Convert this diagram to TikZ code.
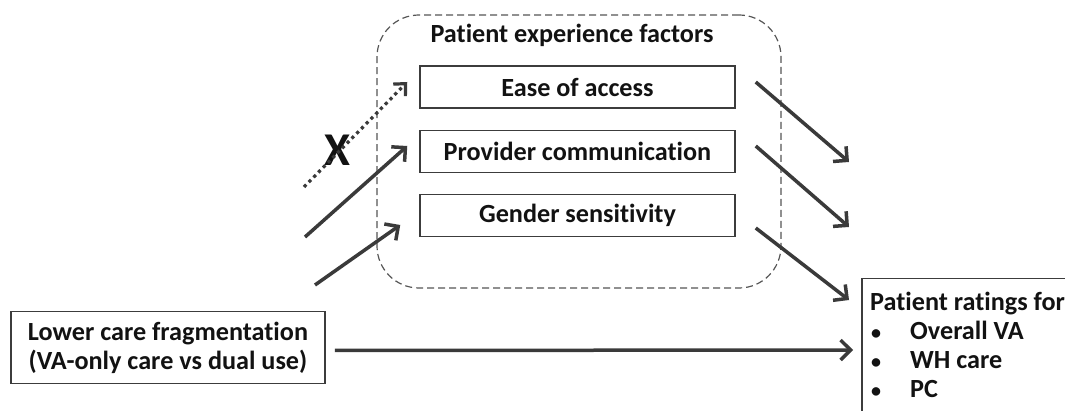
\documentclass[tikz,border=0pt]{standalone}
\usepackage{fontspec}
\setmainfont{Carlito}[Ligatures=NoCommon]
\usetikzlibrary{arrows.meta,calc}
\definecolor{ink}{HTML}{121212}
\definecolor{arrowgray}{HTML}{3A3A3A}
\definecolor{framegray}{HTML}{3C3C3C}
\definecolor{dashgray}{HTML}{555555}

\begin{document}
\begin{tikzpicture}[x=1pt,y=-1pt,
  every node/.style={font=\fontsize{26.2}{29}\selectfont\bfseries, text=ink},
  factor/.style={draw=framegray, line width=1.5pt, minimum width=315pt,
    minimum height=42pt, inner sep=0pt},
  outcome/.style={draw=framegray, line width=1.5pt, inner sep=0pt},
  group/.style={draw=dashgray, line width=1.2pt, dash pattern=on 7pt off 4pt,
    rounded corners=42pt, minimum width=404pt, minimum height=273pt, inner sep=0pt},
  link/.style={draw=arrowgray, line width=3.5pt,
    -{Straight Barb[length=10pt,width=20pt]}},
  nolink/.style={draw=arrowgray, line width=3.2pt, dash pattern=on 3.2pt off 3.6pt,
    -{Straight Barb[length=9pt,width=17pt]}},
]
\clip (0,0) rectangle (1065,411);
\fill[white] (0,0) rectangle (1065,411);

% dashed group of mediating factors
\node[group] (grp) at (579,151.5) {};
\node (grptitle) at (572,35) {Patient experience factors};
\node[factor] (ease) at (577.5,87) {Ease of access};
\node[factor] (prov) at (577.5,151.5) {Provider communication};
\node[factor] (gend) at (577.5,215.5) {Gender sensitivity};

% exposure
\node[outcome, minimum width=314pt, minimum height=72pt, align=center]
  (lower) at (168,347.5) {Lower care fragmentation\\(VA-only care vs dual use)};

% outcome box (runs past the right and bottom edges)
\node[outcome, anchor=north west, minimum width=260pt, minimum height=180pt]
  (ratings) at (861,278) {};
% the base anchor of a multi-line node sits on its last line
\node[anchor=base west, align=left, inner sep=0pt] (ratingtext) at (870,397)
  {Patient ratings for\\
   \makebox[40pt][l]{\hspace{1pt}\fontsize{20}{20}\selectfont•}Overall VA\\
   \makebox[40pt][l]{\hspace{1pt}\fontsize{20}{20}\selectfont•}WH care\\
   \makebox[40pt][l]{\hspace{1pt}\fontsize{20}{20}\selectfont•}PC};

% no association marker
\node[font=\fontsize{47}{47}\selectfont\bfseries] (nox) at (337,150) {X};

% free ends of the arrows
\coordinate (inE) at (304,187);
\coordinate (inP) at (305,237);
\coordinate (inG) at (315,285);
\coordinate (outE) at (849,162);
\coordinate (outP) at (849,227);
\coordinate (outG) at (849,300);

% exposure -> factors
\draw[nolink] (inE) -- ($(ease.west)+(-12,-5)$);
\draw[link] (inP) -- ($(prov.west)+(-12,-5.5)$);
\draw[link] (inG) -- ($(gend.west)+(-19,9.5)$);

% factors -> ratings
\draw[link] ($(ease.east)+(20,-5)$) -- (outE);
\draw[link] ($(prov.east)+(20,-5.5)$) -- (outP);
\draw[link] ($(gend.east)+(20,12.5)$) -- (outG);

% direct path
\draw[link] ($(lower.east)+(9,3)$) -- ($(ratings.north west)+(-8,72)$);
\end{tikzpicture}
\end{document}
